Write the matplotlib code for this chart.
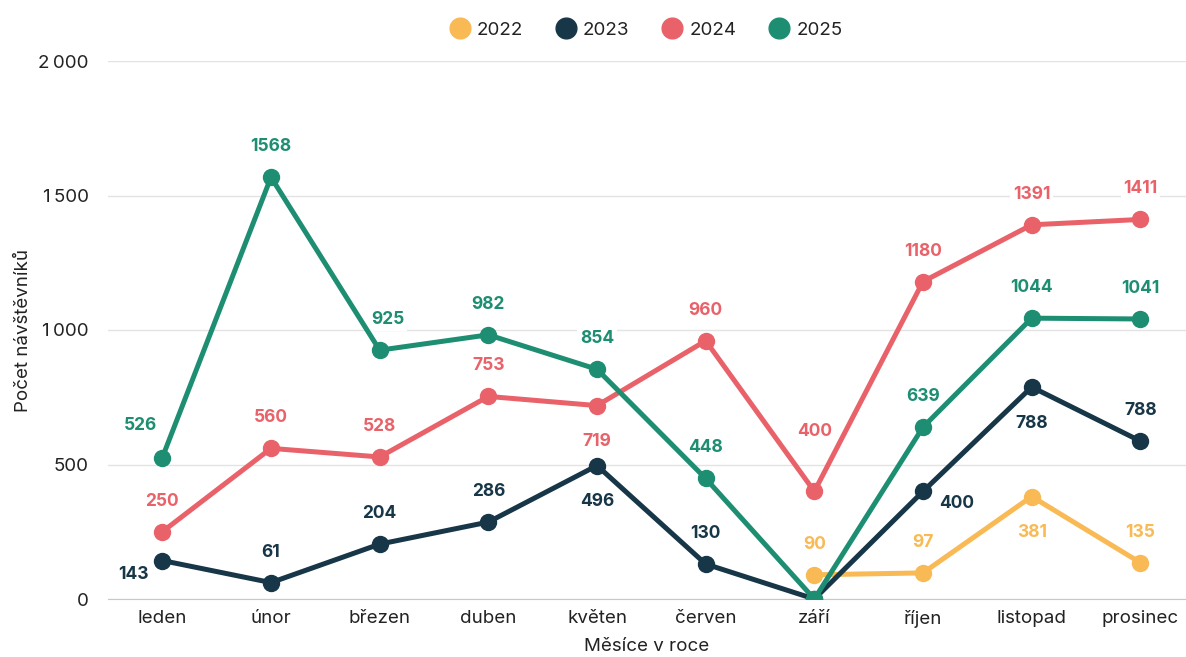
import matplotlib.pyplot as plt
from matplotlib.ticker import FuncFormatter

# data
mesice = ['leden', 'únor', 'březen', 'duben', 'květen', 'červen', 'září', 'říjen', 'listopad', 'prosinec']
roky = ['2022', '2023', '2024', '2025']
barvy = ['#F9BA55', '#173647', '#E9626A', '#1E8E73']

v2022 = [None, None, None, None, None, None, 90, 97, 381, 135]
v2023 = [143, 61, 204, 286, 496, 130, 0, 400, 788, 587]
v2024 = [250, 560, 528, 753, 719, 960, 400, 1180, 1391, 1411]
v2025 = [526, 1568, 925, 982, 854, 448, 0, 639, 1044, 1041]

# popisky (jak jsou v obrazku)
p2022 = ['', '', '', '', '', '', '90', '97', '381', '135']
p2023 = ['143', '61', '204', '286', '496', '130', '', '400', '788', '788']
p2024 = ['250', '560', '528', '753', '719', '960', '400', '1180', '1391', '1411']
p2025 = ['526', '1568', '925', '982', '854', '448', '', '639', '1044', '1041']

# umisteni popisku
pos2022 = ['a'] * 8 + ['b', 'a']
pos2023 = ['bl', 'a', 'a', 'a', 'b', 'a', 'a', 'br', 'b', 'a']
pos2024 = ['a', 'a', 'a', 'a', 'b', 'a', 'a2', 'a', 'a', 'a']
pos2025 = ['al', 'a', 'ar', 'a', 'a', 'a', 'a', 'a', 'a', 'a']

offs = {'a': (0, 22), 'al': (-16, 23), 'ar': (6, 22), 'a2': (0, 43), 'b': (0, -26),
        'bl': (-21, -10), 'br': (24, -9)}

plt.rcParams['font.family'] = ['Inter', 'DejaVu Sans']

fig = plt.figure(figsize=(11.86, 6.57), dpi=100)
ax = fig.add_axes([108 / 1186, 1 - 599 / 657, (1186 - 108) / 1186, (599 - 61) / 657])

x = list(range(len(mesice)))
serie = [v2022, v2023, v2024, v2025]
popisky = [p2022, p2023, p2024, p2025]
pozice = [pos2022, pos2023, pos2024, pos2025]

for rok, hodnoty, barva, pop, poz in zip(roky, serie, barvy, popisky, pozice):
    xs = [i for i, v in zip(x, hodnoty) if v is not None]
    ys = [v for v in hodnoty if v is not None]
    ax.plot(xs, ys, color=barva, lw=3.6, marker='o', markersize=11.5, label=rok,
            solid_capstyle='round', zorder=3)
    for i, v in zip(xs, ys):
        t = pop[i]
        if not t:
            continue
        dx, dy = offs[poz[i]]
        ax.annotate(t, (i, v), xytext=(dx, dy), textcoords='offset points',
                    ha='center', va='center', fontsize=12.5, fontweight='bold',
                    color=barva, zorder=2.5,
                    bbox=dict(boxstyle='square,pad=0.15', fc='white', ec='none'))

ax.set_xlim(-0.5, 9.42)
ax.set_ylim(0, 2000)
ax.set_yticks([0, 500, 1000, 1500, 2000])
ax.yaxis.set_major_formatter(FuncFormatter(lambda v, p: f'{int(v):,}'.replace(',', '\u2009')))
ax.set_xticks(x)
ax.set_xticklabels(mesice)
ax.grid(axis='y', color='#e3e3e3', lw=1, zorder=0)
ax.set_axisbelow(True)
for s in ['top', 'right', 'left']:
    ax.spines[s].set_visible(False)
ax.spines['bottom'].set_color('#c8c8c8')
ax.tick_params(axis='both', length=0, labelsize=13.5, colors='#222222', pad=8)
ax.tick_params(axis='y', pad=14)

ax.set_xlabel('Měsíce v roce', fontsize=13.5, color='#222222', labelpad=7)
ax.set_ylabel('Počet návštěvníků', fontsize=13.5, color='#222222', labelpad=4)

leg = ax.legend(loc='upper center', bbox_to_anchor=(0.5 + 4 / 1078, 1.105), ncol=4, frameon=False,
                fontsize=13.5, handlelength=0, handletextpad=0.9, columnspacing=2.3,
                markerscale=1.3)
for h in leg.legend_handles:
    h.set_linestyle('none')
for t in leg.get_texts():
    t.set_color('#222222')

fig.savefig('out.png', dpi=100)
